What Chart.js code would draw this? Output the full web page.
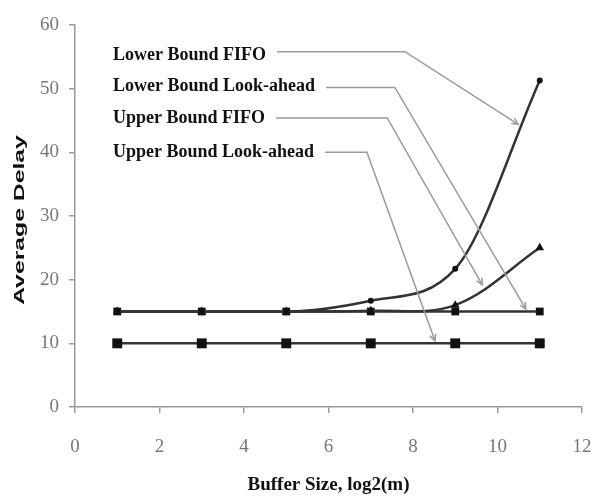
<!DOCTYPE html>
<html>
<head>
<meta charset="utf-8">
<script src="https://cdn.jsdelivr.net/npm/chart.js@4.4.1/dist/chart.umd.min.js"></script>
<style>
    html, body { margin: 0; padding: 0; background: #fff; }
</style>
</head>
<body>
<canvas id="chart" width="591" height="498"></canvas>
<script>
'use strict';

// =========================================================
// DATA
// =========================================================

const bufferSizes = [1, 3, 5, 7, 9, 11];

const lowerBoundFifo = [15, 15, 15, 16.7, 21.7, 51.3];
const upperBoundFifo = [15, 15, 15, 15.1, 16, 25];
const lowerBoundLookahead = [15, 15, 15, 15, 15, 15];
const upperBoundLookahead = [10, 10, 10, 10, 10, 10];

const xTicks = [0, 2, 4, 6, 8, 10, 12];
const yTicks = [0, 10, 20, 30, 40, 50, 60];

const seriesNames = ['Lower Bound FIFO', 'Lower Bound Look-ahead', 'Upper Bound FIFO', 'Upper Bound Look-ahead'];


// =========================================================
// CALLOUTS (label position, bend and arrow tip in data units)
// =========================================================

const callouts = [
    { text: seriesNames[0], at: [0.9, 55.3], bend: [7.81, 55.8], tip: [10.49, 44.4] },
    { text: seriesNames[1], at: [0.9, 50.3], bend: [7.57, 50.2], tip: [10.67, 15.4] },
    { text: seriesNames[2], at: [0.9, 45.4], bend: [7.39, 45.4], tip: [9.64, 19.2] },
    { text: seriesNames[3], at: [0.9, 40.0], bend: [6.91, 40.0], tip: [8.52, 10.4] },
];

const toPoints = (values) => values.map((value, index) => ({ x: bufferSizes[index], y: value }));

const LINE_COLOR = '#333';
const MARK_COLOR = '#111';
const AXIS_COLOR = '#9a9a9a';


// =========================================================
// PLUGINS
// =========================================================

const calloutPlugin = {
    id: 'callouts',
    afterDatasetsDraw: (chart) => {
        const { ctx, scales } = chart;
        const px = (v) => scales.x.getPixelForValue(v);
        const py = (v) => scales.y.getPixelForValue(v);

        ctx.save();
        ctx.font = 'bold 18px "Liberation Serif", "Times New Roman", serif';
        ctx.textBaseline = 'middle';
        ctx.textAlign = 'left';

        callouts.forEach((callout) => {
            const textX = px(callout.at[0]);
            const textY = py(callout.at[1]);

            ctx.fillStyle = '#111';
            ctx.fillText(callout.text, textX, textY);

            const startX = textX + ctx.measureText(callout.text).width + 11;
            const bendX = px(callout.bend[0]);
            const bendY = py(callout.bend[1]);
            const tipX = px(callout.tip[0]);
            const tipY = py(callout.tip[1]);

            ctx.strokeStyle = AXIS_COLOR;
            ctx.lineWidth = 1.5;
            ctx.beginPath();
            ctx.moveTo(startX, bendY);
            ctx.lineTo(bendX, bendY);
            ctx.lineTo(tipX, tipY);
            ctx.stroke();

            // small arrow head
            const angle = Math.atan2(tipY - bendY, tipX - bendX);
            const size = 7;
            ctx.beginPath();
            ctx.moveTo(tipX - size * Math.cos(angle - 0.45), tipY - size * Math.sin(angle - 0.45));
            ctx.lineTo(tipX, tipY);
            ctx.lineTo(tipX - size * Math.cos(angle + 0.45), tipY - size * Math.sin(angle + 0.45));
            ctx.stroke();
        });

        ctx.restore();
    },
};

// The y title in the picture is stretched along its length
const yTitlePlugin = {
    id: 'yTitle',
    afterDraw: (chart) => {
        const { ctx, chartArea } = chart;

        ctx.save();
        ctx.translate(20, (chartArea.top + chartArea.bottom) / 2 + 4);
        ctx.rotate(-Math.PI / 2);
        ctx.scale(1.65, 1);
        ctx.font = 'bold 15px "Liberation Sans", Arial, sans-serif';
        ctx.fillStyle = '#111';
        ctx.textAlign = 'center';
        ctx.textBaseline = 'middle';
        ctx.fillText('Average Delay', 0, 0);
        ctx.restore();
    },
};


// =========================================================
// CHART
// =========================================================

const tickFont = { family: '"Liberation Serif", "Times New Roman", serif', size: 19 };

const makeDataset = (label, values, pointStyle, radius, tension) => ({
    label: label,
    data: toPoints(values),
    borderColor: LINE_COLOR,
    borderWidth: 2.5,
    backgroundColor: MARK_COLOR,
    pointBackgroundColor: MARK_COLOR,
    pointBorderColor: MARK_COLOR,
    pointBorderWidth: 0,
    pointStyle: pointStyle,
    pointRadius: radius,
    tension: tension,
    fill: false,
});

const fifoLower = makeDataset(seriesNames[0], lowerBoundFifo, 'circle', 3, 0.4);
fifoLower.cubicInterpolationMode = 'monotone';

new Chart(document.querySelector('#chart'), {
    type: 'line',
    data: {
        datasets: [
            fifoLower,
            makeDataset(seriesNames[2], upperBoundFifo, 'triangle', 5, 0.35),
            makeDataset(seriesNames[1], lowerBoundLookahead, 'rect', 5.5, 0),
            makeDataset(seriesNames[3], upperBoundLookahead, 'rect', 7, 0),
        ],
    },
    plugins: [calloutPlugin, yTitlePlugin],
    options: {
        responsive: false,
        animation: false,
        devicePixelRatio: 1,
        layout: {
            padding: { top: 25, right: 9, bottom: 0, left: 0 },
        },
        plugins: {
            legend: { display: false },
            tooltip: { enabled: false },
        },
        scales: {
            x: {
                type: 'linear',
                min: 0,
                max: 12,
                afterBuildTicks: (scale) => {
                    scale.ticks = xTicks.map((value) => ({ value: value }));
                },
                afterFit: (scale) => {
                    // tick padding would otherwise push the right edge in
                    scale.height = 91;
                    scale.paddingLeft = 0;
                    scale.paddingRight = 0;
                },
                grid: {
                    drawOnChartArea: false,
                    tickLength: 6,
                    color: AXIS_COLOR,
                    lineWidth: 1.5,
                },
                border: { color: AXIS_COLOR, width: 1.5 },
                ticks: {
                    color: '#777',
                    font: tickFont,
                    padding: 23,
                    maxRotation: 0,
                },
                title: {
                    display: true,
                    text: 'Buffer Size, log2(m)',
                    color: '#111',
                    font: { family: '"Liberation Serif", "Times New Roman", serif', size: 19, weight: 'bold' },
                    padding: { top: 0, bottom: 2 },
                },
            },
            y: {
                type: 'linear',
                min: 0,
                max: 60,
                afterBuildTicks: (scale) => {
                    scale.ticks = yTicks.map((value) => ({ value: value }));
                },
                afterFit: (scale) => {
                    scale.width = 75;
                },
                grid: {
                    drawOnChartArea: false,
                    tickLength: 6,
                    color: AXIS_COLOR,
                    lineWidth: 1.5,
                },
                border: { color: AXIS_COLOR, width: 1.5 },
                ticks: {
                    color: '#777',
                    font: tickFont,
                    padding: 10,
                },
            },
        },
    },
});
</script>
</body>
</html>
